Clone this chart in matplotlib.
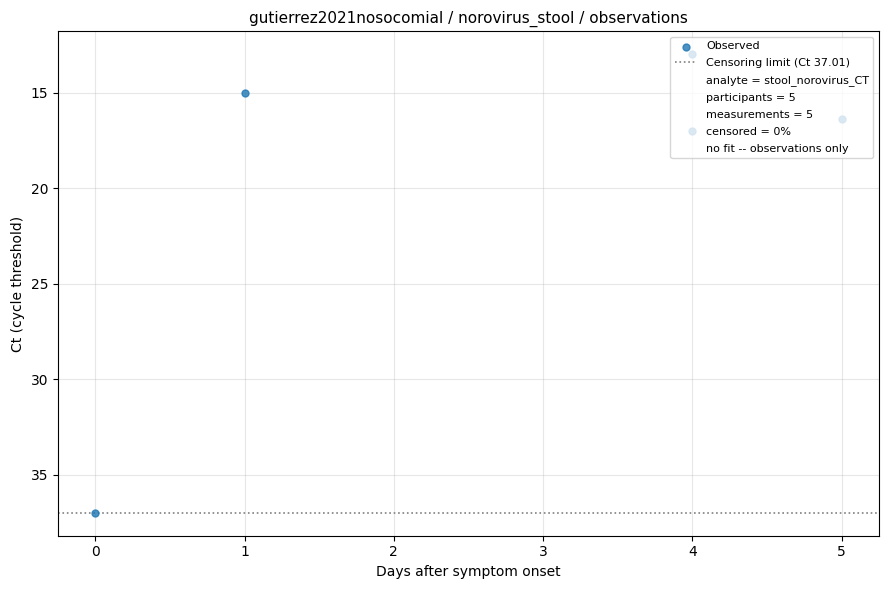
import numpy as np
import matplotlib
matplotlib.use("Agg")
import matplotlib.pyplot as plt
from matplotlib.lines import Line2D

# observations
days = [0, 1, 4, 4, 5]
ct_values = [37.0, 15.0, 13.0, 17.0, 16.4]
censor_limit = 37.01
info_lines = [
    "analyte = stool_norovirus_CT",
    "participants = 5",
    "measurements = 5",
    "censored = 0%",
    "no fit -- observations only",
]

fig, ax = plt.subplots(figsize=(8.9, 5.9), dpi=100)
ax.scatter(days, ct_values, s=25, color="tab:blue", alpha=0.8, label="Observed", zorder=3)
ax.axhline(censor_limit, color="gray", linestyle=":", linewidth=1.2,
           label="Censoring limit (Ct %.2f)" % censor_limit)
ax.invert_yaxis()
ax.grid(True, alpha=0.3)
ax.set_xlabel("Days after symptom onset")
ax.set_ylabel("Ct (cycle threshold)")
ax.set_title("gutierrez2021nosocomial / norovirus_stool / observations", fontsize=11)

handles, labels = ax.get_legend_handles_labels()
for line in info_lines:
    handles.append(Line2D([], [], linestyle="none", marker=None))
    labels.append(line)
ax.legend(handles, labels, loc="upper right", fontsize=8, labelspacing=0.62)

fig.tight_layout(pad=0.8)
fig.savefig("out.png")
